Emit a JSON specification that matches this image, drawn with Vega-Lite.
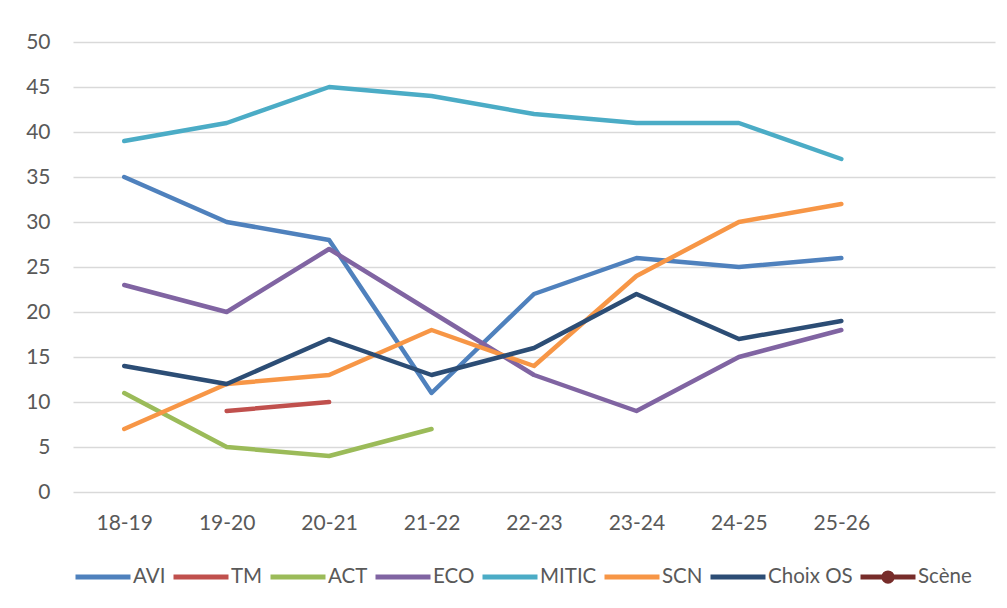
{
  "$schema": "https://vega.github.io/schema/vega-lite/v6.json",
  "autosize": "none",
  "width": 922,
  "height": 450,
  "padding": {"left": 73, "top": 42, "right": 12, "bottom": 116},
  "background": "white",
  "config": {
    "view": {"stroke": null},
    "font": "Lato",
    "axis": {"labelFont": "Lato", "labelColor": "#595959", "labelFontSize": 21, "titleFont": "Lato"},
    "legend": {"labelFont": "Lato"}
  },
  "data": {
    "values": [
      {"serie": "AVI", "annee": "18-19", "valeur": 35},
      {"serie": "AVI", "annee": "19-20", "valeur": 30},
      {"serie": "AVI", "annee": "20-21", "valeur": 28},
      {"serie": "AVI", "annee": "21-22", "valeur": 11},
      {"serie": "AVI", "annee": "22-23", "valeur": 22},
      {"serie": "AVI", "annee": "23-24", "valeur": 26},
      {"serie": "AVI", "annee": "24-25", "valeur": 25},
      {"serie": "AVI", "annee": "25-26", "valeur": 26},
      {"serie": "TM", "annee": "19-20", "valeur": 9},
      {"serie": "TM", "annee": "20-21", "valeur": 10},
      {"serie": "ACT", "annee": "18-19", "valeur": 11},
      {"serie": "ACT", "annee": "19-20", "valeur": 5},
      {"serie": "ACT", "annee": "20-21", "valeur": 4},
      {"serie": "ACT", "annee": "21-22", "valeur": 7},
      {"serie": "ECO", "annee": "18-19", "valeur": 23},
      {"serie": "ECO", "annee": "19-20", "valeur": 20},
      {"serie": "ECO", "annee": "20-21", "valeur": 27},
      {"serie": "ECO", "annee": "21-22", "valeur": 20},
      {"serie": "ECO", "annee": "22-23", "valeur": 13},
      {"serie": "ECO", "annee": "23-24", "valeur": 9},
      {"serie": "ECO", "annee": "24-25", "valeur": 15},
      {"serie": "ECO", "annee": "25-26", "valeur": 18},
      {"serie": "MITIC", "annee": "18-19", "valeur": 39},
      {"serie": "MITIC", "annee": "19-20", "valeur": 41},
      {"serie": "MITIC", "annee": "20-21", "valeur": 45},
      {"serie": "MITIC", "annee": "21-22", "valeur": 44},
      {"serie": "MITIC", "annee": "22-23", "valeur": 42},
      {"serie": "MITIC", "annee": "23-24", "valeur": 41},
      {"serie": "MITIC", "annee": "24-25", "valeur": 41},
      {"serie": "MITIC", "annee": "25-26", "valeur": 37},
      {"serie": "SCN", "annee": "18-19", "valeur": 7},
      {"serie": "SCN", "annee": "19-20", "valeur": 12},
      {"serie": "SCN", "annee": "20-21", "valeur": 13},
      {"serie": "SCN", "annee": "21-22", "valeur": 18},
      {"serie": "SCN", "annee": "22-23", "valeur": 14},
      {"serie": "SCN", "annee": "23-24", "valeur": 24},
      {"serie": "SCN", "annee": "24-25", "valeur": 30},
      {"serie": "SCN", "annee": "25-26", "valeur": 32},
      {"serie": "Choix OS", "annee": "18-19", "valeur": 14},
      {"serie": "Choix OS", "annee": "19-20", "valeur": 12},
      {"serie": "Choix OS", "annee": "20-21", "valeur": 17},
      {"serie": "Choix OS", "annee": "21-22", "valeur": 13},
      {"serie": "Choix OS", "annee": "22-23", "valeur": 16},
      {"serie": "Choix OS", "annee": "23-24", "valeur": 22},
      {"serie": "Choix OS", "annee": "24-25", "valeur": 17},
      {"serie": "Choix OS", "annee": "25-26", "valeur": 19}
    ]
  },
  "mark": {"type": "line", "strokeWidth": 4.5, "strokeCap": "round", "strokeJoin": "round"},
  "encoding": {
    "x": {
      "field": "annee",
      "type": "nominal",
      "sort": null,
      "scale": {"type": "point", "padding": 0.5, "domain": ["18-19", "19-20", "20-21", "21-22", "22-23", "23-24", "24-25", "25-26", "26-27"]},
      "axis": {
        "title": null,
        "labelAngle": 0,
        "domain": false,
        "ticks": false,
        "grid": false,
        "labelPadding": 20,
        "labelExpr": "datum.value === '26-27' ? '' : datum.label"
      }
    },
    "y": {
      "field": "valeur",
      "type": "quantitative",
      "scale": {"domain": [0, 50], "nice": false, "zero": true},
      "axis": {
        "title": null,
        "values": [0, 5, 10, 15, 20, 25, 30, 35, 40, 45, 50],
        "domain": false,
        "ticks": false,
        "grid": true,
        "gridColor": "#D9D9D9",
        "gridWidth": 1.5,
        "labelPadding": 23
      }
    },
    "color": {
      "field": "serie",
      "type": "nominal",
      "scale": {
        "domain": ["AVI", "TM", "ACT", "ECO", "MITIC", "SCN", "Choix OS", "Scène"],
        "range": ["#4F81BD", "#C0504D", "#9BBB59", "#8064A2", "#4BACC6", "#F79646", "#2C4D75", "#772C2A"]
      },
      "legend": {
        "title": null,
        "orient": "bottom",
        "direction": "horizontal",
        "offset": 14,
        "gridAlign": "none",
        "symbolType": "M-1,0L1,0",
        "symbolSize": 3025,
        "symbolStrokeWidth": 5,
        "labelFontSize": 20.5,
        "labelColor": "#595959",
        "labelOffset": 0,
        "columnPadding": -3,
        "labelLimit": 300,
        "encode": {
          "symbols": {
            "update": {
              "shape": {"signal": "datum.value === 'Scène' ? 'M-1,0L1,0M0.07,0A0.07,0.07 0 1 1 -0.07,0A0.07,0.07 0 1 1 0.07,0ZM0.15,0A0.15,0.15 0 1 1 -0.15,0A0.15,0.15 0 1 1 0.15,0Z' : 'M-1,0L1,0'"}
            }
          }
        }
      }
    }
  }
}
